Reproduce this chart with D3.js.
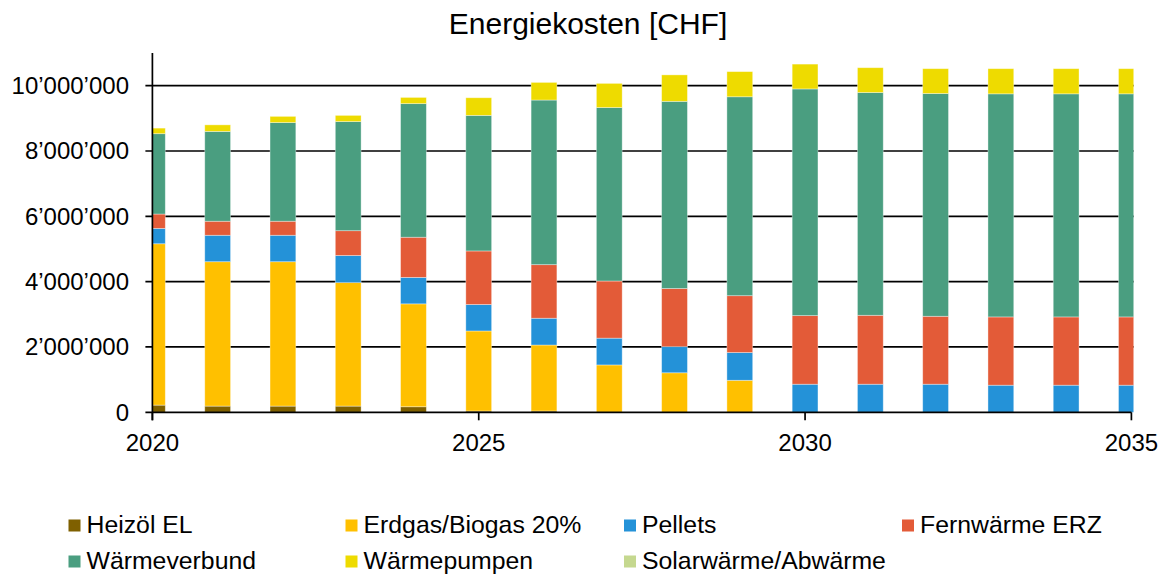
<!DOCTYPE html>
<html>
<head>
<meta charset="utf-8">
<script src="https://cdn.jsdelivr.net/npm/d3@7"></script>
<style>
  html, body { margin: 0; padding: 0; background: #fff; }
  svg { display: block; font-family: Arial, "Liberation Sans", sans-serif; }
</style>
</head>
<body>
<svg id="chart" width="1161" height="574"></svg>
<script>
const years = [2020,2021,2022,2023,2024,2025,2026,2027,2028,2029,2030,2031,2032,2033,2034,2035];
const heizoel   = [220000,190000,190000,190000,170000,40000,40000,0,0,0,0,0,0,0,0,0];
const erdgas    = [4940000,4420000,4420000,3780000,3150000,2450000,2020000,1450000,1210000,980000,0,0,0,0,0,0];
const pellets   = [470000,810000,810000,830000,810000,810000,820000,820000,800000,850000,860000,860000,860000,830000,830000,830000];
const fernwaerme= [440000,430000,430000,760000,1230000,1640000,1640000,1750000,1780000,1740000,2100000,2110000,2080000,2090000,2090000,2090000];
const waermeverbund = [2460000,2750000,3020000,3340000,4090000,4150000,5040000,5310000,5730000,6090000,6940000,6820000,6820000,6830000,6830000,6830000];
const waermepumpen  = [170000,200000,190000,190000,190000,540000,540000,740000,810000,770000,760000,760000,760000,770000,770000,770000];
const solarwaerme   = [0,0,0,0,0,0,0,0,0,0,0,0,0,0,0,0];

const seriesNames = ["Heizöl EL","Erdgas/Biogas 20%","Pellets","Fernwärme ERZ","Wärmeverbund","Wärmepumpen","Solarwärme/Abwärme"];
const seriesValues = [heizoel, erdgas, pellets, fernwaerme, waermeverbund, waermepumpen, solarwaerme];
const seriesColors = ["#7f6000","#ffc000","#2492d8","#e35b38","#4a9e80","#eedb00","#c5d88f"];
const yTicks = [0,2000000,4000000,6000000,8000000,10000000];
const xTicks = [2020,2025,2030,2035];
const chartTitle = "Energiekosten [CHF]";

(function () {
const svg = d3.select("#chart");
const pLeft = 152.4, pRight = 1131.4, pTop = 53, pBottom = 412.3, clipRight = 1133.5;

const x = d3.scaleLinear().domain([2020, 2035]).range([pLeft, pRight]);
const y = d3.scaleLinear().domain([0, 11000000]).range([pBottom, pTop]);
const barW = 25.8;

const fmt = v => String(v).replace(/\B(?=(\d{3})+(?!\d))/g, "\u2019");

// gridlines
svg.append("g").selectAll("line").data(yTicks.filter(d => d > 0)).join("line")
  .attr("x1", pLeft - 7).attr("x2", clipRight)
  .attr("y1", d => y(d)).attr("y2", d => y(d))
  .attr("stroke", "#000").attr("stroke-width", 1.7);

// y labels
svg.append("g").selectAll("text").data(yTicks).join("text")
  .attr("x", 129).attr("y", d => y(d))
  .attr("dy", "0.35em")
  .attr("text-anchor", "end")
  .attr("font-size", 24)
  .attr("fill", "#000")
  .text(d => fmt(d));

// stacked data
const table = years.map((yr, i) => {
  const o = { year: yr };
  seriesNames.forEach((n, k) => o[n] = seriesValues[k][i]);
  return o;
});
const stack = d3.stack().keys(seriesNames)(table);

svg.append("defs").append("clipPath").attr("id", "plotclip")
  .append("rect").attr("x", pLeft).attr("y", 0).attr("width", clipRight - pLeft).attr("height", pBottom + 1);

const barsG = svg.append("g").attr("clip-path", "url(#plotclip)");
stack.forEach((layer, k) => {
  barsG.append("g").selectAll("rect").data(layer.filter(d => d[1] - d[0] > 0)).join("rect")
    .attr("x", d => x(d.data.year) - barW / 2)
    .attr("width", barW)
    .attr("y", d => y(d[1]))
    .attr("height", d => Math.max(0, y(d[0]) - y(d[1])))
    .attr("fill", seriesColors[k])
    .attr("stroke", "rgba(255,255,255,0.45)")
    .attr("stroke-width", 0.8);
});

// axes
svg.append("line").attr("x1", pLeft).attr("x2", pLeft).attr("y1", pTop).attr("y2", pBottom + 8)
  .attr("stroke", "#000").attr("stroke-width", 1.7);
svg.append("line").attr("x1", pLeft - 7).attr("x2", pRight).attr("y1", pBottom).attr("y2", pBottom)
  .attr("stroke", "#000").attr("stroke-width", 1.7);
svg.append("g").selectAll("line").data(xTicks).join("line")
  .attr("x1", d => x(d)).attr("x2", d => x(d))
  .attr("y1", pBottom).attr("y2", pBottom + 8)
  .attr("stroke", "#000").attr("stroke-width", 1.7);
svg.append("g").selectAll("text").data(xTicks).join("text")
  .attr("x", d => x(d)).attr("y", 451)
  .attr("text-anchor", "middle")
  .attr("font-size", 24)
  .attr("fill", "#000")
  .text(d => d);

// title
svg.append("text").attr("x", 588).attr("y", 33.7)
  .attr("text-anchor", "middle").attr("font-size", 30).attr("fill", "#000")
  .text(chartTitle);

// legend
const legX = [68.5, 345.5, 624, 902];
const legY = [519.5, 555.5];
const leg = svg.append("g");
seriesNames.forEach((n, k) => {
  const col = k % 4, row = Math.floor(k / 4);
  leg.append("rect").attr("x", legX[col]).attr("y", legY[row]).attr("width", 12).attr("height", 12)
    .attr("fill", seriesColors[k]);
  leg.append("text").attr("x", legX[col] + 18).attr("y", legY[row] + 13)
    .attr("font-size", 24.8).attr("fill", "#000").text(n);
});
})();
</script>
</body>
</html>
